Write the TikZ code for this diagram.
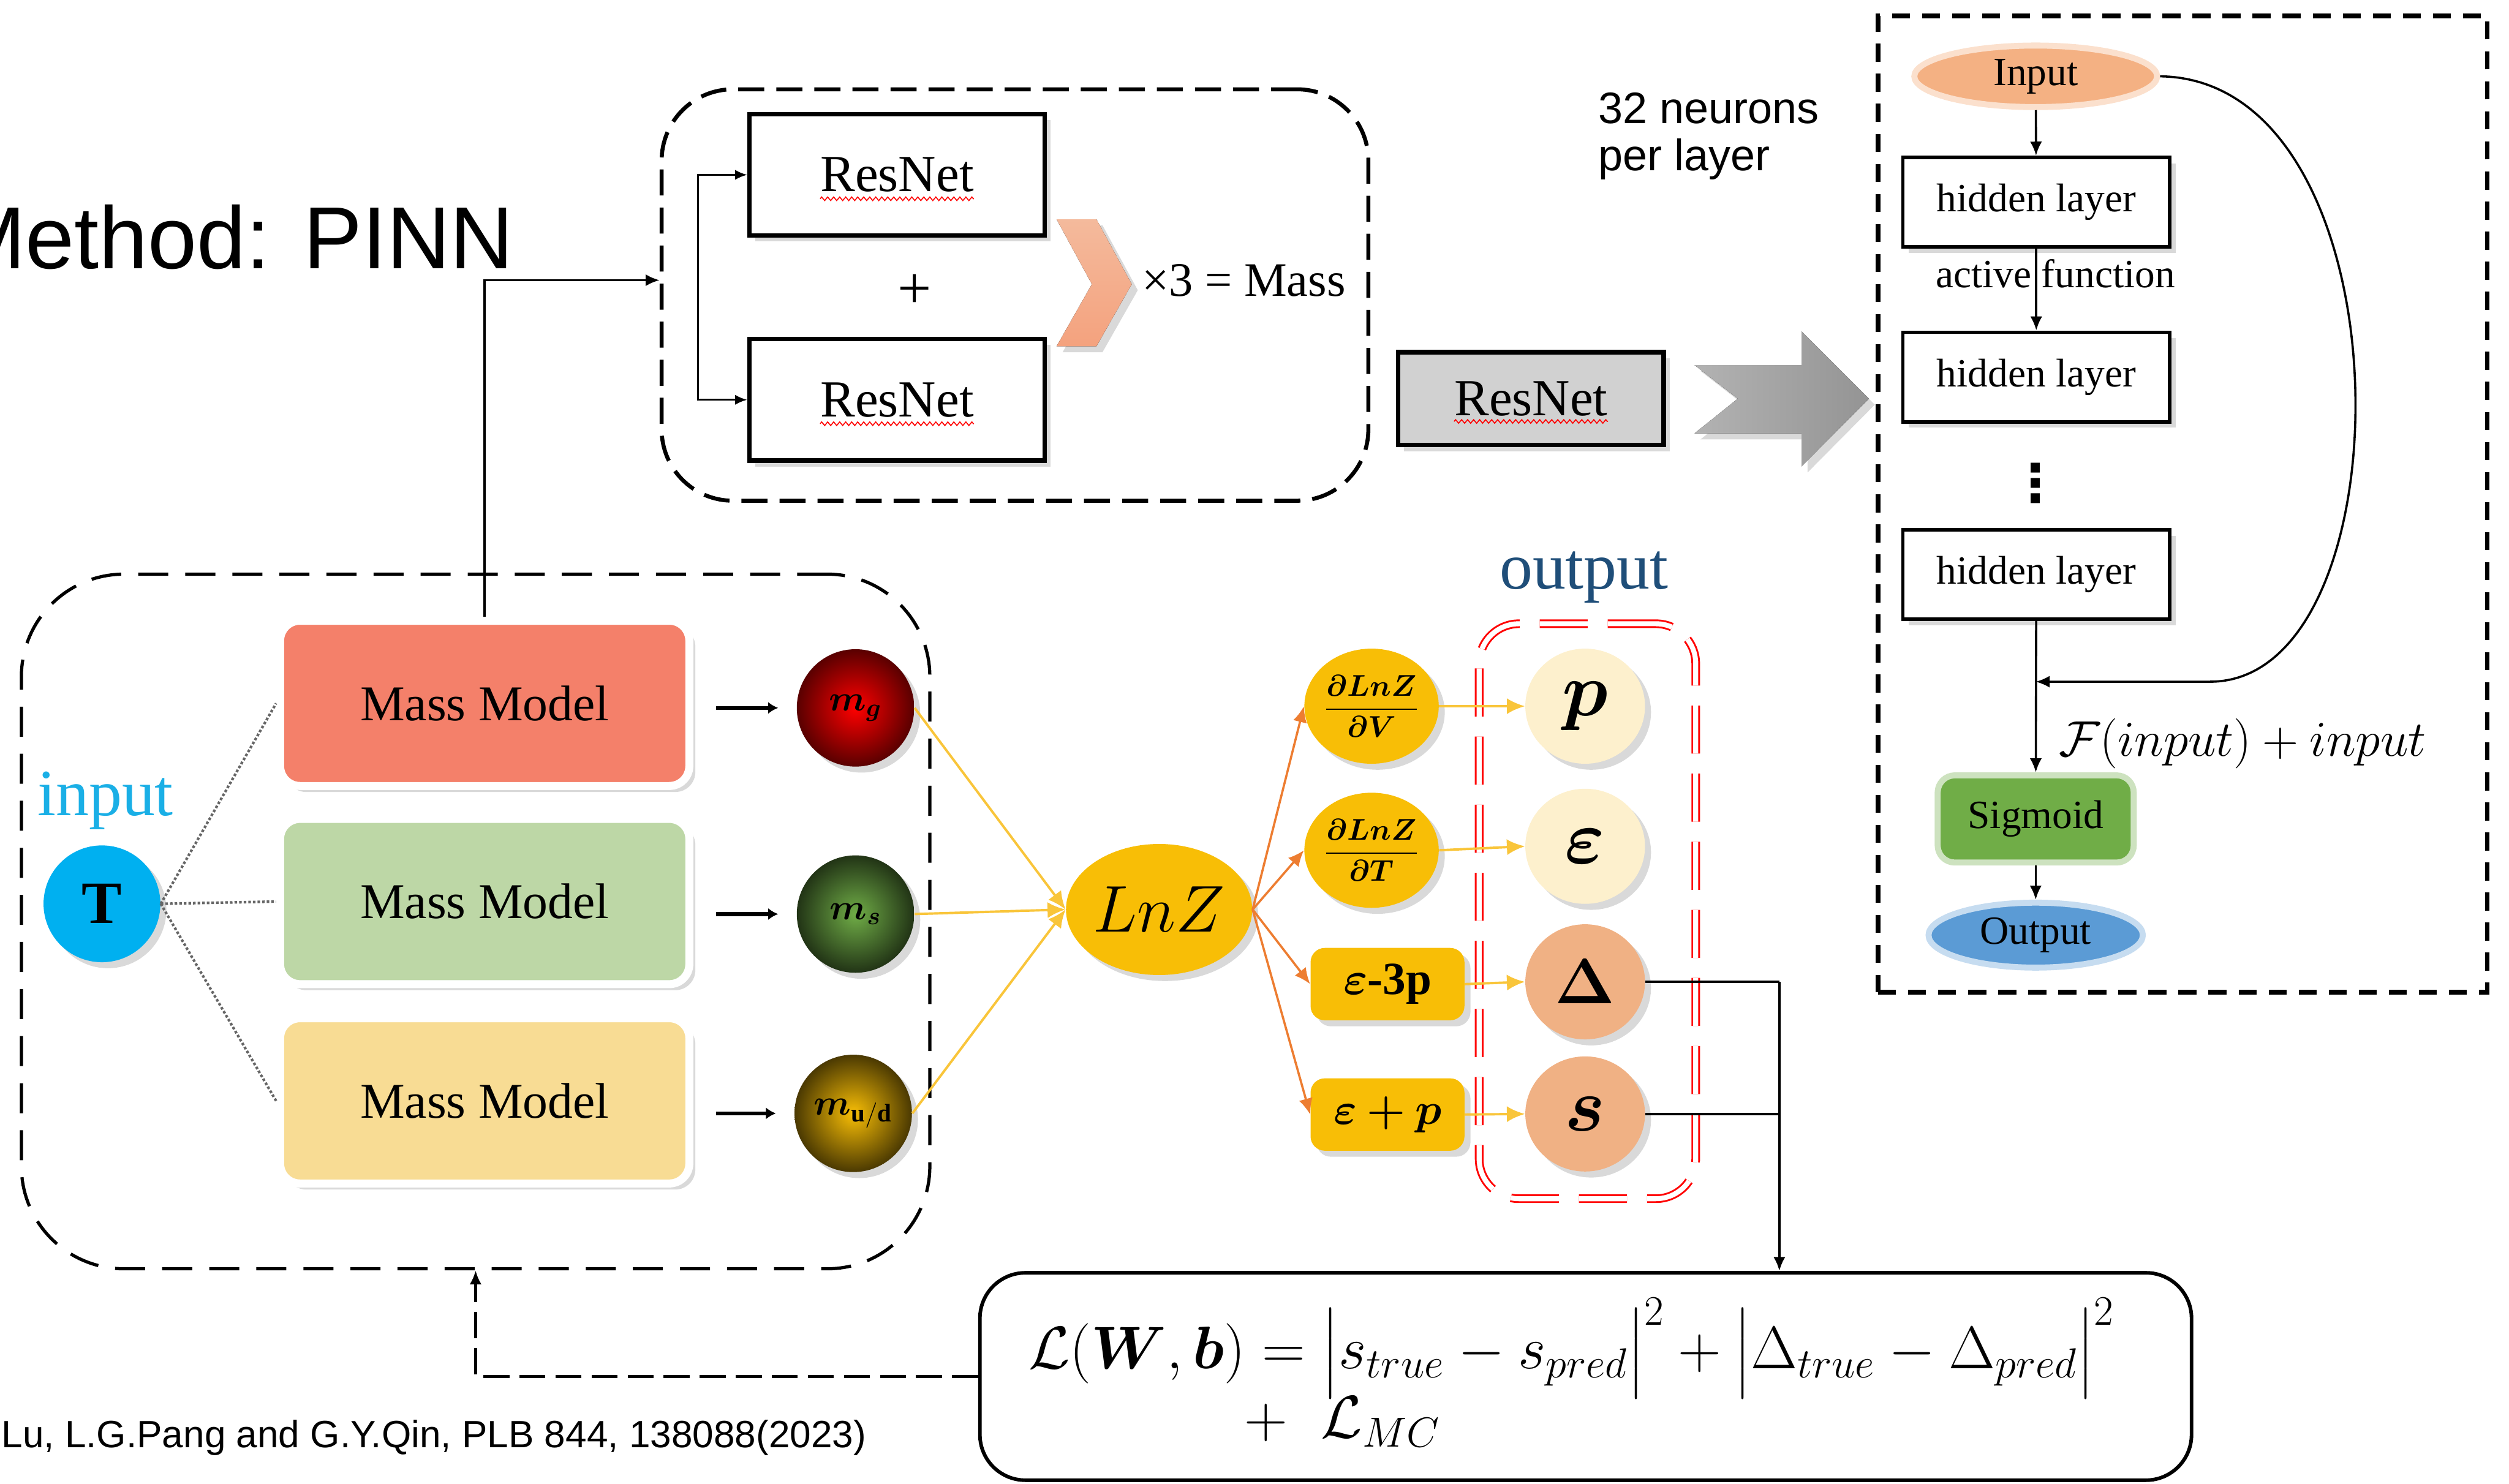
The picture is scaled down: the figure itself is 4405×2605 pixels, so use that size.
\RequirePackage{fix-cm}
\documentclass[tikz,border=0pt]{standalone}
\usepackage{amsmath,bm}
\usepackage{fontspec}
\setmainfont{Liberation Serif}
\newfontfamily\sansf{Liberation Sans}
\newfontfamily\djv{DejaVu Sans}
\usetikzlibrary{arrows.meta,shapes.geometric,shadows,decorations.pathmorphing,calc}
\definecolor{gold}{HTML}{F8BE06}
\definecolor{yarrow}{HTML}{F9C53A}
\definecolor{orarrow}{HTML}{ED7D31}
\definecolor{mmred}{HTML}{F4806A}
\definecolor{mmgreen}{HTML}{BDD7A6}
\definecolor{mmyellow}{HTML}{F8DC94}
\definecolor{tcyan}{HTML}{00B0F0}
\definecolor{incyan}{HTML}{1AAFE6}
\definecolor{outblue}{HTML}{1F4E79}
\definecolor{cream}{HTML}{FDF0CD}
\definecolor{peach}{HTML}{F0B184}
\definecolor{inorange}{HTML}{F4B183}
\definecolor{siggreen}{HTML}{70AD47}
\definecolor{outpblue}{HTML}{5B9BD5}
\definecolor{chevtop}{HTML}{F4BA9C}
\definecolor{chevbot}{HTML}{F4A27E}
\newcommand{\fsz}[1]{\fontsize{#1pt}{#1pt}\selectfont}
\tikzset{
  shd/.style={drop shadow={shadow xshift=3pt, shadow yshift=-3pt, opacity=0.3}},
  arr/.style={-{Latex[length=7pt,width=6pt]}, line width=1.1pt},
  thinarr/.style={-{Latex[length=6pt,width=5pt]}, line width=0.9pt},
  hbox/.style={draw, line width=1.8pt, fill=white, minimum width=4.68cm, minimum height=1.57cm, font=\fsz{20}, shd},
  rnbox/.style={draw, line width=2.3pt, fill=white, minimum width=5.18cm, minimum height=2.13cm, font=\fsz{26}, shd},
  mmbox/.style={draw=white, line width=4pt, rounded corners=0.35cm, minimum width=7.18cm, minimum height=2.90cm, font=\fsz{25}, shd},
  ballnode/.style={circle, minimum size=2.06cm, inner sep=0pt, shd},
  gnode/.style={ellipse, fill=gold, minimum width=2.10cm, minimum height=2.02cm, inner sep=0pt, shd},
  gbox/.style={rounded corners=0.25cm, fill=gold, minimum width=2.70cm, minimum height=1.27cm, inner sep=0pt, shd},
  onode/.style={ellipse, minimum width=2.10cm, minimum height=2.02cm, inner sep=0pt, shd},
  yarr/.style={-{Latex[length=9pt,width=8pt]}, draw=yarrow, line width=1.2pt},
  oarr/.style={-{Latex[length=8pt,width=7pt]}, draw=orarrow, line width=1.1pt},
  mmarr/.style={-{Latex[length=5pt,width=6pt]}, line width=2pt, shorten <=0.4cm, shorten >=0.32cm},
  squig/.style={draw=red, line width=0.5pt, decorate, decoration={zigzag, segment length=3pt, amplitude=0.9pt}},
}
\begin{document}
\begin{tikzpicture}[x=0.01cm,y=-0.01cm]
\useasboundingbox (0,0) rectangle (4405,2605);

% title
\node[anchor=base east, font=\sansf\fsz{44}, inner sep=0pt] (title) at (903,472) {Method: PINN};

% ---------- top ResNet block ----------
\node[draw, line width=2pt, dash pattern=on 13pt off 6pt, rounded corners=1.25cm, minimum width=12.40cm, minimum height=7.22cm] (resbox) at (1782,518) {};
\node[rnbox] (rn1) at (1575,307) {ResNet};
\node[rnbox] (rn2) at (1575,702) {ResNet};
\draw[squig] ([xshift=-1.35cm,yshift=-0.42cm]rn1.center) -- ([xshift=1.35cm,yshift=-0.42cm]rn1.center);
\draw[squig] ([xshift=-1.35cm,yshift=-0.42cm]rn2.center) -- ([xshift=1.35cm,yshift=-0.42cm]rn2.center);
\node[font=\fsz{30}] (plus) at (1606,512) {+};
\coordinate (brk) at (1225,505);
\draw[thinarr] (brk) |- (rn1.west);
\draw[thinarr] (brk) |- (rn2.west);
\fill[top color=chevtop, bottom color=chevbot, shd] (1855,385) -- (1925,385) -- (1987,499) -- (1925,608) -- (1855,608) -- (1917,499) -- cycle;
\node[anchor=base west, font=\fsz{24}, inner sep=0pt] (times3) at (2004,520) {×3 = Mass};

% ---------- neurons label, gray ResNet, big arrow ----------
\node[anchor=north west, font=\sansf\fsz{22}, align=left, inner sep=0pt] (neur) at (2806,162) {32 neurons\\[1.5pt]per layer};
\node[draw, line width=2.3pt, fill=black!18, minimum width=4.66cm, minimum height=1.63cm, font=\fsz{26}, shd] (rn3) at (2688,700) {ResNet};
\draw[squig] ([xshift=-1.35cm,yshift=-0.40cm]rn3.center) -- ([xshift=1.35cm,yshift=-0.40cm]rn3.center);
\fill[left color=black!30, right color=black!42, shd] (2975,641) -- (3163,641) -- (3163,582) -- (3281,700) -- (3163,819) -- (3163,761) -- (2975,761) -- (3051,700) -- cycle;

% ---------- right ResNet detail ----------
\node[draw, line width=2.4pt, dash pattern=on 9pt off 6pt, minimum width=10.69cm, minimum height=17.14cm] (rbox) at (3832,885) {};
\node[ellipse, fill=inorange, draw=inorange!40, line width=3pt, minimum width=4.26cm, minimum height=1.08cm, inner sep=0pt, font=\fsz{20}] (inp) at (3574,134) {Input};
\node[hbox] (hl1) at (3575,355) {hidden layer};
\node[hbox] (hl2) at (3575,662) {hidden layer};
\node[font=\djv\bfseries\fsz{26}, inner sep=0pt] (vd) at (3574,848) {⋮};
\node[hbox] (hl3) at (3575,1009) {hidden layer};
\node[rounded corners=0.3cm, fill=siggreen, draw=siggreen!35, line width=3pt, minimum width=3.44cm, minimum height=1.53cm, font=\fsz{20}] (sig) at (3574,1438) {Sigmoid};
\node[ellipse, fill=outpblue, draw=outpblue!35, line width=3pt, minimum width=3.76cm, minimum height=1.14cm, inner sep=0pt, font=\fsz{20}] (outp) at (3574,1642) {Output};
\draw[arr] (inp) -- (hl1);
\draw[arr] (hl1) -- (hl2);
\node[anchor=base west, font=\fsz{20}, inner sep=0pt] (actf) at (3398,505) {active function};
\draw[arr] (hl3) -- (sig);
\draw[arr] (sig) -- (outp);
\coordinate (merge) at (3574,1197);
\draw[-{Latex[length=7pt,width=6pt]}, line width=1.1pt] (inp.east) .. controls (4234,140) and (4234,1197) .. (3880,1197) -- (merge);
\node[anchor=base west, font=\fsz{25}, inner sep=0pt] (flab) at (3614,1328) {$\mathcal{F}(input) + input$};

% ---------- left mass-model block ----------
\node[draw, line width=1.6pt, dash pattern=on 15pt off 8.5pt, rounded corners=1.8cm, minimum width=15.94cm, minimum height=12.19cm] (lbox) at (835,1618) {};
\node[mmbox, fill=mmred] (mm1) at (851,1235) {Mass Model};
\node[mmbox, fill=mmgreen] (mm2) at (851,1583) {Mass Model};
\node[mmbox, fill=mmyellow] (mm3) at (851,1933) {Mass Model};
\node[anchor=base west, text=incyan, font=\fsz{33}, inner sep=0pt] (intext) at (65,1432) {input};
\node[circle, fill=tcyan, minimum size=2.05cm, inner sep=0pt, font=\fsz{30}, shd] (T) at (179,1587) {\textbf{T}};
\foreach \m in {mm1,mm2,mm3}
  \draw[densely dotted, black!60, line width=1.3pt] (T.east) -- (\m.west);
\node[ballnode, inner color=red, outer color=red!35!black, font=\fsz{18}] (mg) at (1502,1243) {$\bm{m_g}$};
\node[ballnode, inner color=siggreen, outer color=siggreen!30!black, font=\fsz{18}] (ms) at (1502,1605) {$\bm{m_s}$};
\node[ballnode, inner color=gold, outer color=gold!30!black, font=\fsz{18}] (mud) at (1498,1955) {$\bm{m}_{\mathbf{u/d}}$};
\draw[mmarr] (mm1.east |- mg) -- (mg);
\draw[mmarr] (mm2.east |- ms) -- (ms);
\draw[mmarr] (mm3.east |- mud) -- (mud);
\draw[-{Latex[length=7pt,width=6pt]}, line width=1.2pt] (mm1.north) |- ([yshift=0.26cm]resbox.west);

% ---------- LnZ and derivatives ----------
\node[ellipse, fill=gold, minimum width=2.76cm, minimum height=2.30cm, inner sep=0pt, font=\fsz{33}, shd] (lnz) at (2035,1597) {$LnZ$};
\draw[yarr] (mg.east) -- (lnz.west);
\draw[yarr] (ms.east) -- (lnz.west);
\draw[yarr] (mud.east) -- (lnz.west);
\node[gnode, font=\fsz{15}] (dV) at (2408,1240) {$\dfrac{\bm{\partial LnZ}}{\bm{\partial V}}$};
\node[gnode, font=\fsz{15}] (dT) at (2408,1493) {$\dfrac{\bm{\partial LnZ}}{\bm{\partial T}}$};
\node[gbox, font=\fsz{23}] (e3p) at (2436,1728) {$\bm{\varepsilon}$\textbf{-3p}};
\node[gbox, font=\fsz{22}] (epp) at (2436,1957) {$\bm{\varepsilon + p}$};
\draw[oarr] (lnz.east) -- (dV.west);
\draw[oarr] (lnz.east) -- (dT.west);
\draw[oarr] (lnz.east) -- (e3p.west);
\draw[oarr] (lnz.east) -- (epp.west);

% ---------- outputs ----------
\node[anchor=base west, text=outblue, font=\fsz{33}, inner sep=0pt] (outtext) at (2632,1034) {output};
\node[draw=red, double=white, double distance=2.5pt, line width=0.9pt, dash pattern=on 24pt off 10pt, rounded corners=0.7cm, minimum width=3.80cm, minimum height=10.09cm] (obox) at (2787,1600) {};
\node[onode, fill=cream, font=\fsz{38}] (p) at (2783,1240) {$\bm{p}$};
\node[onode, fill=cream, font=\fsz{38}] (eps) at (2783,1486) {$\bm{\varepsilon}$};
\node[onode, fill=peach, font=\fsz{32}] (Dl) at (2783,1724) {$\bm{\Delta}$};
\node[onode, fill=peach, font=\fsz{38}] (s) at (2783,1956) {$\bm{s}$};
\draw[yarr] (dV.east) -- (p.west);
\draw[yarr] (dT.east) -- (eps.west);
\draw[yarr] (e3p.east) -- (Dl.west);
\draw[yarr] (epp.east) -- (s.west);

% ---------- loss ----------
\node[draw, line width=1.8pt, rounded corners=0.8cm, minimum width=21.26cm, minimum height=3.64cm] (loss) at (2784,2417) {};
\node[anchor=base west, font=\fsz{30}, inner sep=0pt] (f1) at (1805,2403) {$\mathcal{L}(\bm{W},\bm{b}) = \bigl|s_{true}-s_{pred}\bigr|^2 + \bigl|\Delta_{true}-\Delta_{pred}\bigr|^2$};
\node[anchor=base west, font=\fsz{30}, inner sep=0pt] (f2) at (2184,2525) {$+\;\;\mathcal{L}_{MC}$};
\coordinate (jn) at (3124,1724);
\draw[line width=1.2pt] (Dl.east) -- (jn);
\draw[line width=1.2pt] (s.east) -- (s.east -| jn);
\draw[-{Latex[length=7pt,width=6pt]}, line width=1.2pt] (jn) -- (jn |- loss.north);
\draw[-{Latex[length=7pt,width=6pt]}, line width=1.3pt, dash pattern=on 13pt off 5pt] (loss.west) -| (lbox.south);

% citation
\node[anchor=base west, font=\sansf\fsz{19}, inner sep=0pt] (cite) at (2,2542) {Lu, L.G.Pang and G.Y.Qin, PLB 844, 138088(2023)};
\end{tikzpicture}
\end{document}
